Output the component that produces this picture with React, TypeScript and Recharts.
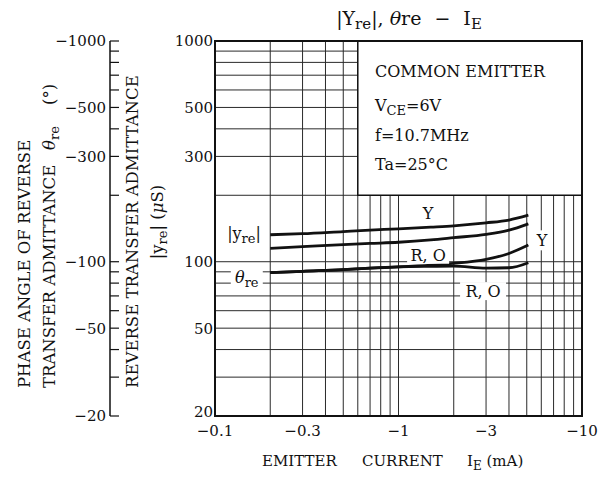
import React from "react";
import { LineChart, Line, XAxis, YAxis, CartesianGrid, ReferenceArea, ReferenceDot } from "recharts";

// emitter current magnitude (mA), plotted as -I_E
const currentMA = [0.2, 0.3, 0.5, 0.7, 1, 1.5, 2, 3, 4, 5.1];
// |yre| (uS)
const yreY = [132.5, 134, 137, 139, 141, 143.5, 145.5, 150, 154.5, 162.5];
const yreRO = [115, 117, 119.5, 121, 122.5, 125.5, 128.5, 133, 139, 148.5];
// phase angle magnitude (deg), plotted as -theta
const thetaY = [89.2, 90.5, 92, 93.5, 94.7, 96.5, 98.3, 102.5, 109, 119];
const thetaRO = [89.2, 90.5, 92, 93.5, 94.7, 95.3, 95.6, 93.6, 93.9, 99];

const xTicks = [0.1, 0.2, 0.3, 0.4, 0.5, 0.6, 0.7, 0.8, 0.9, 1, 2, 3, 4, 5, 6, 7, 8, 9, 10];
const xMajor = [0.1, 0.3, 1, 3, 10];
const yTicks = [20, 30, 40, 50, 60, 70, 80, 90, 100, 200, 300, 400, 500, 600, 700, 800, 900, 1000];
const yMajor = [20, 50, 100, 300, 500, 1000];

const FONT = "'DejaVu Serif', serif";
const INK = "#111";

const rows = (vals: number[]) => currentMA.map((x, i) => ({ x, v: vals[i] }));

// curve annotations, placed in data coordinates
const notes = [
  { x: 0.144, y: 135, text: "yre", w: 36, h: 20 },
  { x: 0.149, y: 85.3, text: "theta", w: 32, h: 20 },
  { x: 1.45, y: 166, text: "Y", w: 16, h: 18 },
  { x: 1.45, y: 107, text: "R, O", w: 42, h: 17 },
  { x: 6.05, y: 125, text: "Y", w: 18, h: 20 },
  { x: 2.89, y: 73.6, text: "R, O", w: 46, h: 18 },
];

function noteShape(n: { text: string; w: number; h: number }) {
  return (props: any) => {
    const { cx, cy } = props;
    let content: React.ReactNode = n.text;
    if (n.text === "yre") {
      content = (
        <>
          <tspan>|y</tspan>
          <tspan dy={4} fontSize={13}>re</tspan>
          <tspan dy={-4}>|</tspan>
        </>
      );
    } else if (n.text === "theta") {
      content = (
        <>
          <tspan fontStyle="italic">θ</tspan>
          <tspan dy={4} fontSize={13}>re</tspan>
        </>
      );
    }
    return (
      <g>
        <rect x={cx - n.w / 2} y={cy - n.h / 2} width={n.w} height={n.h} fill="#fff" />
        <text x={cx} y={cy} dy="0.36em" textAnchor="middle" fontFamily={FONT} fontSize={16} fill={INK}>
          {content}
        </text>
      </g>
    );
  };
}

function PhaseTick(props: any) {
  const { x, y, payload } = props;
  const axisX = x + 4;
  const major = yMajor.includes(payload.value);
  return (
    <g>
      <line x1={axisX} x2={axisX + 9} y1={y} y2={y} stroke={INK} strokeWidth={1.2} />
      {major && (
        <text x={x} y={y} dy="0.36em" textAnchor="end" fontFamily={FONT} fontSize={15} fill={INK}>
          {"−" + payload.value}
        </text>
      )}
    </g>
  );
}

function MainTick(props: any) {
  const { x, y, payload } = props;
  if (!yMajor.includes(payload.value)) return <g />;
  // bottom label sits a little above the corner, as in the original
  const shift = payload.value === 20 ? -4 : 0;
  return (
    <text x={x} y={y + shift} dy="0.36em" textAnchor="end" fontFamily={FONT} fontSize={15} fill={INK}>
      {payload.value}
    </text>
  );
}

export default function App() {
  return (
    <div style={{ position: "absolute", left: 0, top: 0, width: 611, height: 479, background: "#fff" }}>
      <LineChart width={611} height={479} margin={{ top: 41, right: 29, bottom: 0, left: 0 }}>
        <CartesianGrid yAxisId="a" stroke="#2a2a2a" strokeWidth={1} />
        <XAxis
          dataKey="x"
          type="number"
          scale="log"
          domain={[0.1, 10]}
          ticks={xTicks}
          interval={0}
          allowDataOverflow
          height={63}
          tickLine={false}
          tickSize={0}
          tickMargin={9}
          axisLine={{ stroke: INK, strokeWidth: 2 }}
          tick={{ fontSize: 15, fill: INK, fontFamily: FONT }}
          tickFormatter={(v: number) => (xMajor.includes(v) ? "−" + v : "")}
        />
        <YAxis
          yAxisId="b"
          type="number"
          scale="log"
          domain={[20, 1000]}
          ticks={yTicks}
          interval={0}
          allowDataOverflow
          width={110}
          tickSize={0}
          tickMargin={4}
          axisLine={{ stroke: INK, strokeWidth: 1.5 }}
          tick={<PhaseTick />}
        />
        <YAxis
          yAxisId="a"
          type="number"
          scale="log"
          domain={[20, 1000]}
          ticks={yTicks}
          interval={0}
          allowDataOverflow
          width={105}
          tickLine={false}
          tickSize={0}
          tickMargin={2}
          axisLine={{ stroke: INK, strokeWidth: 2 }}
          tick={<MainTick />}
        />
        <ReferenceArea
          yAxisId="a"
          x1={0.6}
          x2={10}
          y1={200}
          y2={1000}
          fill="#fff"
          fillOpacity={1}
          stroke={INK}
          strokeWidth={1.5}
        />
        <ReferenceArea
          yAxisId="a"
          x1={0.1}
          x2={10}
          y1={20}
          y2={1000}
          fill="none"
          fillOpacity={0}
          stroke={INK}
          strokeWidth={2}
        />
        {notes.map((n, i) => (
          <ReferenceDot key={i} yAxisId="a" x={n.x} y={n.y} r={1} shape={noteShape(n)} />
        ))}
        <Line yAxisId="a" data={rows(yreY)} dataKey="v" type="monotone" stroke={INK} strokeWidth={2.8} dot={false} isAnimationActive={false} />
        <Line yAxisId="a" data={rows(yreRO)} dataKey="v" type="monotone" stroke={INK} strokeWidth={2.8} dot={false} isAnimationActive={false} />
        <Line yAxisId="b" data={rows(thetaY)} dataKey="v" type="monotone" stroke={INK} strokeWidth={2.8} dot={false} isAnimationActive={false} />
        <Line yAxisId="b" data={rows(thetaRO)} dataKey="v" type="monotone" stroke={INK} strokeWidth={2.8} dot={false} isAnimationActive={false} />
      </LineChart>
      <svg width={611} height={479} style={{ position: "absolute", left: 0, top: 0, pointerEvents: "none" }}>
        <g fontFamily={FONT} fill={INK}>
          <text x={409} y={25} textAnchor="middle" fontSize={19}>
            <tspan>|Y</tspan>
            <tspan dy={4} fontSize={15}>re</tspan>
            <tspan dy={-4}>|, </tspan>
            <tspan fontStyle="italic">θ</tspan>
            <tspan>re</tspan>
            <tspan dx={13}>−</tspan>
            <tspan dx={13}>I</tspan>
            <tspan dy={4} fontSize={15}>E</tspan>
          </text>
          <g fontSize={16}>
            <text x={375} y={77}>COMMON EMITTER</text>
            <text x={375} y={111}>
              <tspan>V</tspan>
              <tspan dy={4} fontSize={13}>CE</tspan>
              <tspan dy={-4}>=6V</tspan>
            </text>
            <text x={375} y={141}>f=10.7MHz</text>
            <text x={375} y={170}>Ta=25°C</text>
          </g>
          <text y={466} fontSize={15}>
            <tspan x={262}>EMITTER</tspan>
            <tspan x={362}>CURRENT</tspan>
            <tspan x={467}>I</tspan>
            <tspan dy={4} fontSize={12}>E</tspan>
            <tspan dy={-4}> (mA)</tspan>
          </text>
          <g fontSize={16.5}>
            <text transform="translate(30,388) rotate(-90)">PHASE ANGLE OF REVERSE</text>
            <text transform="translate(55,388) rotate(-90)">
              <tspan x={0}>TRANSFER ADMITTANCE</tspan>
              <tspan x={238} fontStyle="italic">θ</tspan>
              <tspan dy={4} fontSize={13}>re</tspan>
              <tspan x={283} dy={-4}>(°)</tspan>
            </text>
            <text transform="translate(138,388) rotate(-90)">REVERSE TRANSFER ADMITTANCE</text>
            <text transform="translate(163,222) rotate(-90)" textAnchor="middle">
              <tspan>|y</tspan>
              <tspan dy={4} fontSize={13}>re</tspan>
              <tspan dy={-4}>|  (</tspan>
              <tspan fontStyle="italic">μ</tspan>
              <tspan>S)</tspan>
            </text>
          </g>
        </g>
      </svg>
    </div>
  );
}
